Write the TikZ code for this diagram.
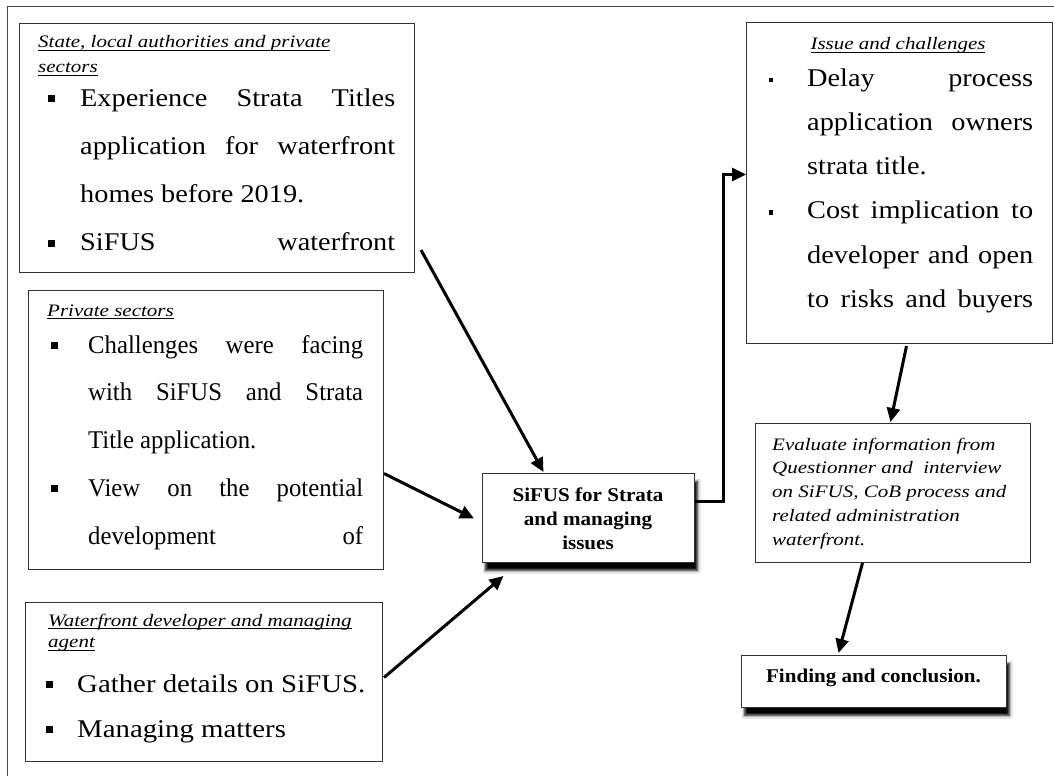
\documentclass[tikz,border=0pt]{standalone}
\usepackage{fontspec}
\setmainfont{Liberation Serif}
\newfontfamily\bodyA{Liberation Serif}[FakeStretch=1.11]
\newfontfamily\bodyB{Liberation Serif}[FakeStretch=0.97]
\newfontfamily\bodyC{Liberation Serif}[FakeStretch=1.13]
\newfontfamily\headfont{Liberation Serif}[FakeStretch=1.2]
\newfontfamily\strongfont{Liberation Serif}[FakeStretch=1.08]
\usetikzlibrary{arrows.meta,calc,shadows.blur}

% underline sitting just below the baseline
\newcommand\ul[1]{\setbox0\hbox{#1}\rlap{\rule[-3pt]{\wd0}{0.8pt}}\box0}
% stacked lines with a fixed baseline distance; baseline = first line
\newcommand\linesL[2]{\vtop{\baselineskip=#1\lineskiplimit=-100pt\lineskip=0pt\halign{##\hfil\cr#2\crcr}}}
\newcommand\linesC[2]{\vtop{\baselineskip=#1\lineskiplimit=-100pt\lineskip=0pt\halign{\hfil##\hfil\cr#2\crcr}}}
% square bullets hanging left of the text
\newcommand\sqb[1]{\llap{\rule[4pt]{7pt}{7pt}\hspace{#1}}}
\newcommand\smb{\llap{\rule[4pt]{4pt}{4.5pt}\hspace{34pt}}}
\newcommand\just[2]{\makebox[#1][s]{#2}}

\begin{document}
\begin{tikzpicture}[x=1pt,y=-1pt,
  box/.style={draw=black!80, line width=1pt, fill=white, inner sep=0pt, anchor=north west},
  txt/.style={inner sep=0pt, anchor=base west},
  ctxt/.style={inner sep=0pt, anchor=base},
  headtxt/.style={font=\headfont\itshape\fontsize{17.5}{21}\selectfont},
  strongtxt/.style={font=\strongfont\bfseries\fontsize{19.5}{24}\selectfont},
  link/.style={line width=3pt, -{Triangle[length=14pt,width=13pt]}, line join=miter},
  shadowed/.style={blur shadow={shadow xshift=3pt, shadow yshift=-8pt,
      shadow blur radius=2.5pt, shadow blur steps=10, shadow opacity=100}}]

\fill[white] (0,0) rectangle (1054,776);
\useasboundingbox (0,0) rectangle (1054,776);
% page frame
\draw[black!70, line width=1pt] (7,776) -- (7,7) -- (1054,7);

% ---- left column ----
\node[box, minimum width=395pt, minimum height=249pt] (A) at (19,23) {};
\node[txt, headtxt] (Ahead) at (38,48)
  {\linesL{24.5pt}{\ul{State, local authorities and private}\cr\ul{sectors}}};
\node[txt, font=\bodyA\fontsize{25.5}{30}\selectfont] (Abody) at (80,106)
  {\linesL{48.3pt}{\sqb{25pt}\just{315pt}{Experience Strata Titles}\cr
   \just{315pt}{application for waterfront}\cr
   homes before 2019.\cr
   \sqb{25pt}\just{315pt}{SiFUS waterfront}}};

\node[box, minimum width=355pt, minimum height=279pt] (B) at (28,290) {};
\node[txt, headtxt] (Bhead) at (47,316) {\ul{Private sectors}};
\node[txt, font=\bodyB\fontsize{25.5}{30}\selectfont] (Bbody) at (88,353)
  {\linesL{47.8pt}{\sqb{30pt}\just{275pt}{Challenges were facing}\cr
   \just{275pt}{with SiFUS and Strata}\cr
   Title application.\cr
   \sqb{30pt}\just{275pt}{View on the potential}\cr
   \just{275pt}{development of}}};

\node[box, minimum width=357pt, minimum height=159pt] (C) at (25,602) {};
\node[txt, headtxt] (Chead) at (48,626)
  {\linesL{21.5pt}{\ul{Waterfront developer and managing}\cr\ul{agent}}};
\node[txt, font=\bodyC\fontsize{25.5}{30}\selectfont] (Cbody) at (77,692)
  {\linesL{45pt}{\sqb{24pt}Gather details on SiFUS.\cr
   \sqb{24pt}Managing matters}};

% ---- centre ----
\node[box, shadowed, minimum width=212pt, minimum height=89pt] (D) at (482,473) {};
\node[ctxt, strongtxt] (Dtext) at (588,501)
  {\linesC{24pt}{SiFUS for Strata\cr and managing\cr issues}};

% ---- right column ----
\node[box, minimum width=306pt, minimum height=321pt] (E) at (746,22) {};
\node[ctxt, headtxt] (Ehead) at (898,50) {\ul{Issue and challenges}};
\node[txt, font=\bodyA\fontsize{25.5}{30}\selectfont] (Ebody) at (807,86)
  {\linesL{44.3pt}{\smb\just{226pt}{Delay process}\cr
   \just{226pt}{application owners}\cr
   strata title.\cr
   \smb\just{226pt}{Cost implication to}\cr
   \just{226pt}{developer and open}\cr
   \just{226pt}{to risks and buyers}}};

\node[box, minimum width=275pt, minimum height=139pt] (F) at (755,423) {};
\node[txt, headtxt] (Ftext) at (772,450)
  {\linesL{23.8pt}{Evaluate information from\cr
   Questionner and\ \ interview\cr
   on SiFUS, CoB process and\cr
   related administration\cr
   waterfront.}};

\node[box, shadowed, minimum width=265pt, minimum height=52pt] (G) at (741,655) {};
\node[ctxt, strongtxt] (Gtext) at (873.5,682) {Finding and conclusion.};

% ---- connectors ----
\draw[link] ($(A.south east)+(6,-23)$) -- ($(D.north)+(-45,-1)$);
\draw[link] ($(B.east)+(0,43.5)$) -- ($(D.west)+(-8,0.5)$);
\draw[link] ($(C.east)+(1,-4.5)$) -- ($(D.south)+(-85,13)$);
\draw[link] ($(D.east)+(0,-17)$) -- ++(28,0) |- ($(E.west)+(0,-8.5)$);
\draw[link] ($(E.south)+(7,2)$) -- ($(F.north)+(-2.5,-1)$);
\draw[link] ($(F.south)+(-30.5,0)$) -- ($(G.north)+(-35.5,-2)$);
\end{tikzpicture}
\end{document}
